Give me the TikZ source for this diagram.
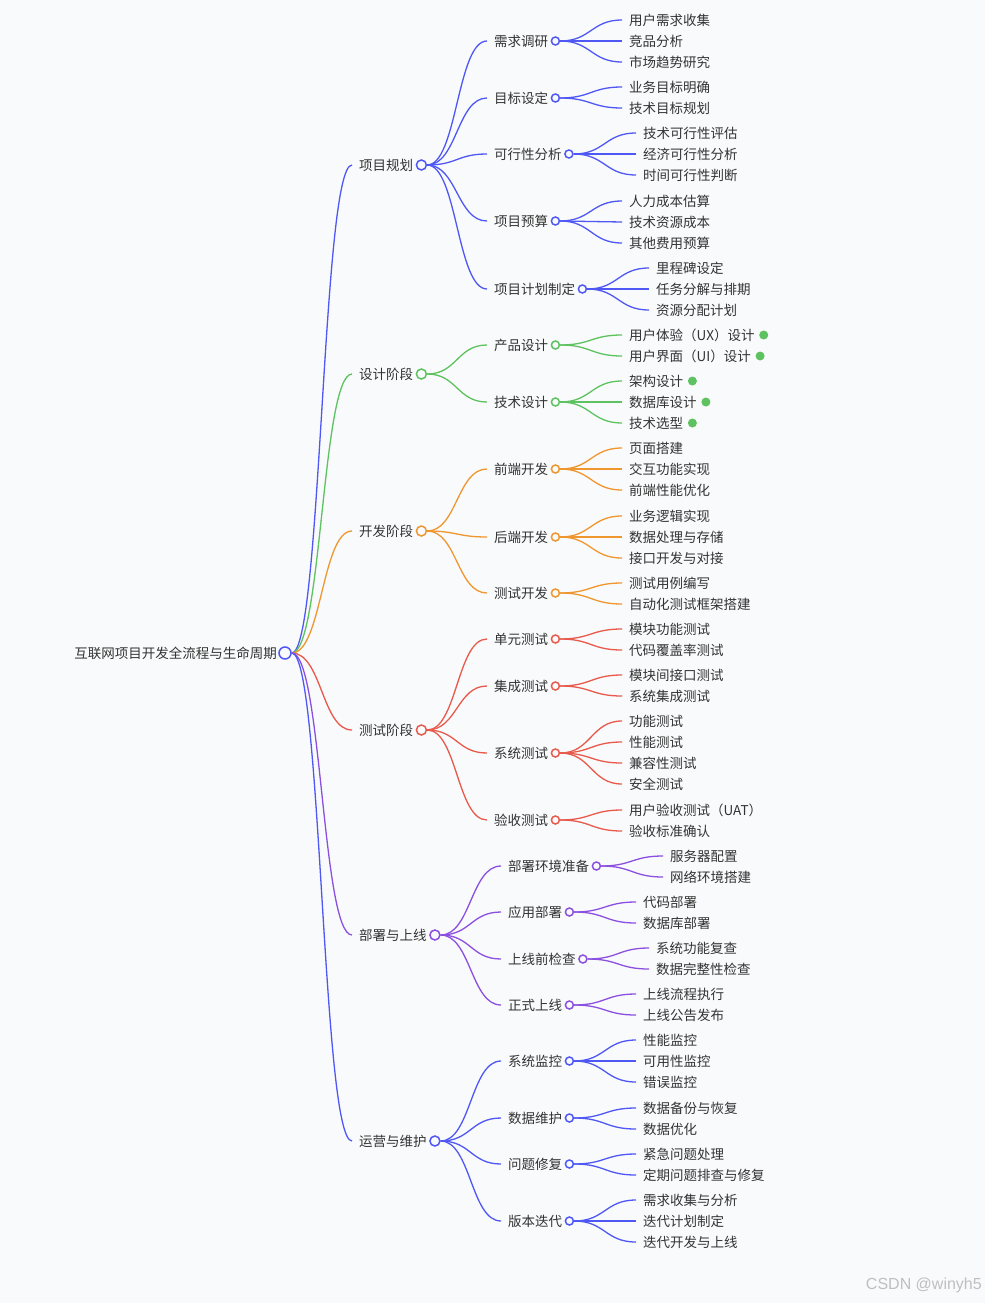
\documentclass[tikz,border=0pt]{standalone}
\usepackage{fontspec}
\usetikzlibrary{calc}
\newfontfamily\cjk{Noto Sans CJK SC}
\newfontfamily\wmfont{Liberation Sans}
\definecolor{bgc}{HTML}{F9FAFB}
\definecolor{txt}{HTML}{333333}
\definecolor{cb}{HTML}{4F58F5}
\definecolor{cg}{HTML}{5DC25F}
\definecolor{co}{HTML}{F0962E}
\definecolor{cr}{HTML}{E85A4C}
\definecolor{cp}{HTML}{8B50E0}
\pgfdeclarelayer{bglayer}
\pgfdeclarelayer{lines}
\pgfsetlayers{bglayer,lines,main}
\tikzset{
  lbl/.style={font=\cjk\fontsize{13.5}{16}\selectfont, text=txt, inner xsep=0pt, inner ysep=2pt},
  ring/.style={circle, draw=#1, fill=bgc, line width=1.5pt, inner sep=0pt},
  link/.style={draw=#1, line width=1.3pt},
  gdot/.style={circle, fill=cg, inner sep=0pt, minimum size=9pt}
}
% curve from parent circle (#1-c.east) to child text (#2.west) in colour #3
\newcommand\mmlink[3]{%
  \begin{pgfonlayer}{lines}
  \draw[link=#3] let \p1=(#1-c.east), \p2=([xshift=-7pt]#2.west), \n1={(\x1+\x2)/2} in
    (\p1) .. controls (\n1,\y1) and (\n1,\y2) .. (\p2);
  \end{pgfonlayer}}
% level 1: name, x, y, text, colour
\newcommand\mmA[5]{%
  \node[lbl,anchor=west] (#1) at (#2,#3) {#4};
  \node[ring=#5,minimum size=10pt] (#1-c) at ([xshift=8pt]#1.east) {};
  \mmlink{root}{#1}{#5}}
% level 2: name, parent, x, y, text, colour
\newcommand\mmB[6]{%
  \node[lbl,anchor=west] (#1) at (#3,#4) {#5};
  \node[ring=#6,minimum size=8pt] (#1-c) at ([xshift=7pt]#1.east) {};
  \mmlink{#2}{#1}{#6}}
% leaf: name, parent, x, y, text, colour
\newcommand\mmL[6]{%
  \node[lbl,anchor=west] (#1) at (#3,#4) {#5};
  \mmlink{#2}{#1}{#6}}
% green leaf with dot
\newcommand\mmG[5]{%
  \node[lbl,anchor=west] (#1) at (#3,#4) {#5};
  \node[gdot] (#1-d) at ([xshift=9pt]#1.east) {};
  \mmlink{#2}{#1}{cg}}
\begin{document}
\begin{tikzpicture}[x=1pt,y=-1pt]
\begin{pgfonlayer}{bglayer}
\fill[bgc] (0,0) rectangle (985,1303);
\end{pgfonlayer}
\useasboundingbox (0,0) rectangle (985,1303);

\node[lbl,anchor=east] (root) at (277,653) {互联网项目开发全流程与生命周期};
\node[ring=cb,minimum size=12pt] (root-c) at (285,653) {};

% ---- 项目规划
\mmA{p1}{359}{165}{项目规划}{cb}
\mmB{p1a}{p1}{494}{41}{需求调研}{cb}
\mmL{p1a1}{p1a}{629}{20}{用户需求收集}{cb}
\mmL{p1a2}{p1a}{629}{41}{竞品分析}{cb}
\mmL{p1a3}{p1a}{629}{62}{市场趋势研究}{cb}
\mmB{p1b}{p1}{494}{98}{目标设定}{cb}
\mmL{p1b1}{p1b}{629}{87}{业务目标明确}{cb}
\mmL{p1b2}{p1b}{629}{108}{技术目标规划}{cb}
\mmB{p1c}{p1}{494}{154}{可行性分析}{cb}
\mmL{p1c1}{p1c}{643}{133}{技术可行性评估}{cb}
\mmL{p1c2}{p1c}{643}{154}{经济可行性分析}{cb}
\mmL{p1c3}{p1c}{643}{175}{时间可行性判断}{cb}
\mmB{p1d}{p1}{494}{221}{项目预算}{cb}
\mmL{p1d1}{p1d}{629}{201}{人力成本估算}{cb}
\mmL{p1d2}{p1d}{629}{222}{技术资源成本}{cb}
\mmL{p1d3}{p1d}{629}{243}{其他费用预算}{cb}
\mmB{p1e}{p1}{494}{289}{项目计划制定}{cb}
\mmL{p1e1}{p1e}{656}{268}{里程碑设定}{cb}
\mmL{p1e2}{p1e}{656}{289}{任务分解与排期}{cb}
\mmL{p1e3}{p1e}{656}{310}{资源分配计划}{cb}

% ---- 设计阶段
\mmA{p2}{359}{374}{设计阶段}{cg}
\mmB{p2a}{p2}{494}{345}{产品设计}{cg}
\mmG{p2a1}{p2a}{629}{335}{用户体验（UX）设计}
\mmG{p2a2}{p2a}{629}{356}{用户界面（UI）设计}
\mmB{p2b}{p2}{494}{402}{技术设计}{cg}
\mmG{p2b1}{p2b}{629}{381}{架构设计}
\mmG{p2b2}{p2b}{629}{402}{数据库设计}
\mmG{p2b3}{p2b}{629}{423}{技术选型}

% ---- 开发阶段
\mmA{p3}{359}{531}{开发阶段}{co}
\mmB{p3a}{p3}{494}{469}{前端开发}{co}
\mmL{p3a1}{p3a}{629}{448}{页面搭建}{co}
\mmL{p3a2}{p3a}{629}{469}{交互功能实现}{co}
\mmL{p3a3}{p3a}{629}{490}{前端性能优化}{co}
\mmB{p3b}{p3}{494}{537}{后端开发}{co}
\mmL{p3b1}{p3b}{629}{516}{业务逻辑实现}{co}
\mmL{p3b2}{p3b}{629}{537}{数据处理与存储}{co}
\mmL{p3b3}{p3b}{629}{558}{接口开发与对接}{co}
\mmB{p3c}{p3}{494}{593}{测试开发}{co}
\mmL{p3c1}{p3c}{629}{583}{测试用例编写}{co}
\mmL{p3c2}{p3c}{629}{604}{自动化测试框架搭建}{co}

% ---- 测试阶段
\mmA{p4}{359}{730}{测试阶段}{cr}
\mmB{p4a}{p4}{494}{639}{单元测试}{cr}
\mmL{p4a1}{p4a}{629}{629}{模块功能测试}{cr}
\mmL{p4a2}{p4a}{629}{650}{代码覆盖率测试}{cr}
\mmB{p4b}{p4}{494}{686}{集成测试}{cr}
\mmL{p4b1}{p4b}{629}{675}{模块间接口测试}{cr}
\mmL{p4b2}{p4b}{629}{696}{系统集成测试}{cr}
\mmB{p4c}{p4}{494}{753}{系统测试}{cr}
\mmL{p4c1}{p4c}{629}{721}{功能测试}{cr}
\mmL{p4c2}{p4c}{629}{742}{性能测试}{cr}
\mmL{p4c3}{p4c}{629}{763}{兼容性测试}{cr}
\mmL{p4c4}{p4c}{629}{784}{安全测试}{cr}
\mmB{p4d}{p4}{494}{820}{验收测试}{cr}
\mmL{p4d1}{p4d}{629}{810}{用户验收测试（UAT）}{cr}
\mmL{p4d2}{p4d}{629}{831}{验收标准确认}{cr}

% ---- 部署与上线
\mmA{p5}{359}{935}{部署与上线}{cp}
\mmB{p5a}{p5}{508}{866}{部署环境准备}{cp}
\mmL{p5a1}{p5a}{670}{856}{服务器配置}{cp}
\mmL{p5a2}{p5a}{670}{877}{网络环境搭建}{cp}
\mmB{p5b}{p5}{508}{912}{应用部署}{cp}
\mmL{p5b1}{p5b}{643}{902}{代码部署}{cp}
\mmL{p5b2}{p5b}{643}{923}{数据库部署}{cp}
\mmB{p5c}{p5}{508}{959}{上线前检查}{cp}
\mmL{p5c1}{p5c}{656}{948}{系统功能复查}{cp}
\mmL{p5c2}{p5c}{656}{969}{数据完整性检查}{cp}
\mmB{p5d}{p5}{508}{1005}{正式上线}{cp}
\mmL{p5d1}{p5d}{643}{994}{上线流程执行}{cp}
\mmL{p5d2}{p5d}{643}{1015}{上线公告发布}{cp}

% ---- 运营与维护
\mmA{p6}{359}{1141}{运营与维护}{cb}
\mmB{p6a}{p6}{508}{1061}{系统监控}{cb}
\mmL{p6a1}{p6a}{643}{1040}{性能监控}{cb}
\mmL{p6a2}{p6a}{643}{1061}{可用性监控}{cb}
\mmL{p6a3}{p6a}{643}{1082}{错误监控}{cb}
\mmB{p6b}{p6}{508}{1118}{数据维护}{cb}
\mmL{p6b1}{p6b}{643}{1108}{数据备份与恢复}{cb}
\mmL{p6b2}{p6b}{643}{1129}{数据优化}{cb}
\mmB{p6c}{p6}{508}{1164}{问题修复}{cb}
\mmL{p6c1}{p6c}{643}{1154}{紧急问题处理}{cb}
\mmL{p6c2}{p6c}{643}{1175}{定期问题排查与修复}{cb}
\mmB{p6d}{p6}{508}{1221}{版本迭代}{cb}
\mmL{p6d1}{p6d}{643}{1200}{需求收集与分析}{cb}
\mmL{p6d2}{p6d}{643}{1221}{迭代计划制定}{cb}
\mmL{p6d3}{p6d}{643}{1242}{迭代开发与上线}{cb}

\node[font=\wmfont\fontsize{16}{18}\selectfont, text=black!25, anchor=east, inner sep=0pt] (wm) at (982,1285) {CSDN @winyh5};
\end{tikzpicture}
\end{document}
